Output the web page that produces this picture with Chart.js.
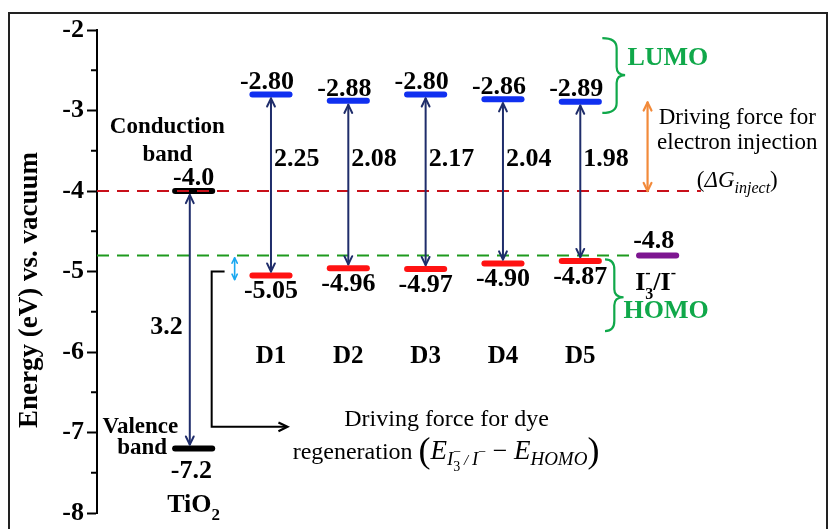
<!DOCTYPE html>
<html>
<head>
<meta charset="utf-8">
<script src="https://cdn.jsdelivr.net/npm/chart.js@4"></script>
<style>
  html, body { margin: 0; padding: 0; background: #fff; overflow: hidden; }
  #frame { position: absolute; left: 8px; top: 12px; width: 816px; height: 600px; border: 2px solid #222; }
  #wrap { position: absolute; left: 0; top: 0; width: 830px; height: 529px; }
</style>
</head>
<body>
<div id="frame"></div>
<div id="wrap"><canvas id="chart"></canvas></div>
<script>
// energy levels (eV vs vacuum)
const dyes = ['D1', 'D2', 'D3', 'D4', 'D5'];
const lumo = [-2.80, -2.88, -2.80, -2.86, -2.89];
const homo = [-5.05, -4.96, -4.97, -4.90, -4.87];
const gaps = [2.25, 2.08, 2.17, 2.04, 1.98];
const tio2CB = -4.0;
const tio2VB = -7.2;
const tio2Gap = 3.2;
const redox = -4.8;
const yTicks = [-2, -3, -4, -5, -6, -7, -8];

// x slots: TiO2 = 0, dyes = 1..5, redox couple = 6
const HALF = 0.24;
const SERIF = "'Liberation Serif', 'Times New Roman', serif";
const BLUE = '#1030f0', RED = '#ff1212', PURPLE = '#7d1690';
const NAVY = '#1f2d6b', GREEN = '#10a84a', ORANGE = '#f28a3a', CYAN = '#1aa8f0';

function seg(x, y, color) {
    return {
        data: [{ x: x - HALF, y }, { x: x + HALF, y }],
        borderColor: color, borderWidth: 6, borderCapStyle: 'round',
        pointRadius: 0, order: 2
    };
}

const datasets = [];
dyes.forEach((d, i) => {
    datasets.push(seg(i + 1, lumo[i], BLUE));
    datasets.push(seg(i + 1, homo[i], RED));
});
datasets.push(seg(0, tio2CB, '#000'));
datasets.push(seg(0, tio2VB, '#000'));
datasets.push(seg(6, redox, PURPLE));
datasets.push({
    data: [{ x: -1.25, y: tio2CB }, { x: 6.56, y: tio2CB }],
    borderColor: '#c8101a', borderWidth: 2, borderDash: [12, 8], pointRadius: 0, order: 0
});
datasets.push({
    data: [{ x: -1.25, y: redox }, { x: 5.7, y: redox }],
    borderColor: '#1e9a1e', borderWidth: 2, borderDash: [12, 8], pointRadius: 0, order: 0
});

function font(size, weight = 'bold', style = 'normal') {
    return `${style} ${weight} ${size}px ${SERIF}`;
}

function arrowHead(ctx, x, y, ang, len) {
    ctx.beginPath();
    ctx.moveTo(x - len * Math.cos(ang - 0.45), y - len * Math.sin(ang - 0.45));
    ctx.lineTo(x, y);
    ctx.lineTo(x - len * Math.cos(ang + 0.45), y - len * Math.sin(ang + 0.45));
    ctx.stroke();
}

function arrow(ctx, x1, y1, x2, y2, color, width, len, both) {
    ctx.save();
    ctx.strokeStyle = color; ctx.lineWidth = width;
    ctx.lineCap = 'round'; ctx.lineJoin = 'round';
    ctx.beginPath(); ctx.moveTo(x1, y1); ctx.lineTo(x2, y2); ctx.stroke();
    const ang = Math.atan2(y2 - y1, x2 - x1);
    arrowHead(ctx, x2, y2, ang, len);
    if (both) arrowHead(ctx, x1, y1, ang + Math.PI, len);
    ctx.restore();
}

function brace(ctx, x0, xm, xt, yTop, yMid, yBot) {
    ctx.save();
    ctx.strokeStyle = GREEN; ctx.lineWidth = 2.2;
    ctx.beginPath();
    ctx.moveTo(x0, yTop);
    ctx.quadraticCurveTo(xm, yTop, xm, yTop + 10);
    ctx.lineTo(xm, yMid - 8);
    ctx.quadraticCurveTo(xm, yMid, xt, yMid);
    ctx.quadraticCurveTo(xm, yMid, xm, yMid + 8);
    ctx.lineTo(xm, yBot - 10);
    ctx.quadraticCurveTo(xm, yBot, x0, yBot);
    ctx.stroke();
    ctx.restore();
}

// draw a run of [text, font, dy, noAdvance] pieces starting at x
function run(ctx, x, y, pieces, color = '#000') {
    ctx.save();
    ctx.fillStyle = color; ctx.textAlign = 'left'; ctx.textBaseline = 'alphabetic';
    for (const p of pieces) {
        ctx.font = p[1];
        ctx.fillText(p[0], x, y + (p[2] || 0));
        if (!p[3]) x += ctx.measureText(p[0]).width;
    }
    ctx.restore();
    return x;
}

function runWidth(ctx, pieces) {
    let w = 0;
    for (const p of pieces) { ctx.font = p[1]; if (!p[3]) w += ctx.measureText(p[0]).width; }
    return w;
}

const annotations = {
    id: 'annotations',
    afterDatasetsDraw(chart) {
        const ctx = chart.ctx;
        const xs = chart.scales.x, ys = chart.scales.y;
        const px = u => xs.getPixelForValue(u);
        const py = v => ys.getPixelForValue(v);

        // minor ticks
        ctx.save();
        ctx.strokeStyle = '#000'; ctx.lineWidth = 2;
        for (let v = -2.5; v > -8; v -= 1) {
            ctx.beginPath(); ctx.moveTo(xs.left - 6, py(v)); ctx.lineTo(xs.left, py(v)); ctx.stroke();
        }
        ctx.restore();

        // axis title
        ctx.save();
        ctx.translate(30, 290);
        ctx.rotate(-Math.PI / 2);
        ctx.font = font(27); ctx.fillStyle = '#000';
        ctx.textAlign = 'center'; ctx.textBaseline = 'middle';
        ctx.fillText('Energy (eV) vs. vacuum', 0, 0);
        ctx.restore();

        const text = (s, u, v, f, align = 'center', base = 'middle', color = '#000') => {
            ctx.save();
            ctx.font = f; ctx.fillStyle = color; ctx.textAlign = align; ctx.textBaseline = base;
            ctx.fillText(s, typeof u === 'number' ? px(u) : u.px, typeof v === 'number' ? py(v) : v.px);
            ctx.restore();
        };

        // dye levels, arrows, values
        dyes.forEach((d, i) => {
            const x = px(i + 1);
            arrow(ctx, x, py(lumo[i]) + 4, x, py(homo[i]) - 4, NAVY, 2, 9, true);
            text(lumo[i].toFixed(2), { px: x - 4 }, { px: py(lumo[i]) - 12 }, font(26));
            text(homo[i].toFixed(2), { px: x }, { px: py(homo[i]) + 16 }, font(26));
            text(gaps[i].toFixed(2), { px: x + 3 }, -3.61, font(26), 'left');
            text(d, i + 1, -6.06, font(25));
        });

        // TiO2
        const xt = px(-0.05);
        arrow(ctx, xt, py(tio2CB) + 4, xt, py(tio2VB) - 4, NAVY, 2, 9, true);
        text('Conduction', -0.34, -3.21, font(23));
        text('band', -0.34, -3.55, font(23));
        text(tio2CB.toFixed(1), { px: px(0) }, { px: py(tio2CB) - 13 }, font(26));
        text(tio2Gap.toFixed(1), -0.35, -5.69, font(26));
        text('Valence', -0.69, -6.93, font(23));
        text('band', { px: px(-HALF) - 8 }, { px: py(tio2VB) - 1 }, font(23), 'right');
        text(tio2VB.toFixed(1), { px: px(-0.03) }, { px: py(tio2VB) + 23 }, font(26));
        const tiPieces = [['TiO', font(26), 0], ['2', font(17), 8]];
        run(ctx, px(0) - runWidth(ctx, tiPieces) / 2, py(-7.88) + 9, tiPieces);

        // redox couple
        text(redox.toFixed(1), { px: px(5.95) }, { px: py(redox) - 14 }, font(26));
        const iPieces = [['I', font(26), 0], ['-', font(16), -12, true], ['3', font(16), 9], ['/I', font(26), 0], ['-', font(16), -12]];
        run(ctx, px(6) - runWidth(ctx, iPieces) / 2 - 2, py(-5.12) + 9, iPieces);

        // braces + LUMO / HOMO labels
        brace(ctx, px(5.285), px(5.47), px(5.58), py(-2.1), py(-2.56), py(-3.03));
        brace(ctx, px(5.32), px(5.44), px(5.56), py(-4.85), py(-5.32), py(-5.74));
        text('LUMO', 5.61, -2.35, font(26), 'left', 'middle', GREEN);
        text('HOMO', 5.56, -5.49, font(26), 'left', 'middle', GREEN);

        // electron injection driving force
        arrow(ctx, px(5.87), py(-2.9), px(5.87), py(tio2CB), ORANGE, 2.2, 9, true);
        text('Driving force for', 7.03, -3.09, font(23, 'normal'));
        text('electron injection', 7.03, -3.40, font(23, 'normal'));
        const gPieces = [['(', font(23, 'normal'), 0], ['\u0394G', font(23, 'normal', 'italic'), 0],
                         ['inject', font(16, 'normal', 'italic'), 6], [')', font(23, 'normal'), 0]];
        run(ctx, px(7.03) - runWidth(ctx, gPieces) / 2, py(-3.85) + 8, gPieces);

        // dye regeneration driving force
        arrow(ctx, px(0.53), py(-4.83), px(0.53), py(-5.1), CYAN, 1.6, 6, true);
        ctx.save();
        ctx.strokeStyle = '#000'; ctx.lineWidth = 2;
        const bx = px(0.233), by0 = py(-5.0), by1 = py(-6.93), bx1 = px(1.2);
        ctx.beginPath();
        ctx.moveTo(px(0.4), by0); ctx.lineTo(bx, by0); ctx.lineTo(bx, by1); ctx.lineTo(bx1, by1);
        ctx.stroke();
        ctx.lineWidth = 2.2;
        arrowHead(ctx, bx1 + 1, by1, 0, 10);
        ctx.restore();
        text('Driving force for dye', 3.27, -6.84, font(24, 'normal'));
        const eI = font(19, 'normal', 'italic'), sm = font(14, 'normal');
        const rPieces = [
            ['regeneration ', font(24, 'normal'), 0],
            ['(', font(36, 'normal'), 3],
            ['E', font(27, 'normal', 'italic'), 0],
            ['I', eI, 6], ['\u2212', sm, -3, true], ['3', sm, 12], [' / ', font(15, 'normal', 'italic'), 6], ['I', eI, 6], ['\u2212', sm, -3],
            [' \u2212 ', font(26, 'normal'), 0],
            ['E', font(27, 'normal', 'italic'), 0],
            ['HOMO', eI, 6],
            [')', font(36, 'normal'), 3]
        ];
        run(ctx, px(1.28), py(-7.23) + 8, rPieces);
    }
};

new Chart(document.getElementById('chart'), {
    type: 'line',
    data: { datasets },
    options: {
        responsive: true,
        maintainAspectRatio: false,
        animation: false,
        layout: { padding: { left: 0, right: 10, top: 30, bottom: 14 } },
        plugins: { legend: { display: false }, tooltip: { enabled: false } },
        scales: {
            x: { type: 'linear', min: -1.25, max: 8.1, display: false },
            y: {
                type: 'linear', min: -8, max: -2,
                afterFit: s => { s.width = 97; },
                afterBuildTicks: s => { s.ticks = yTicks.map(v => ({ value: v })); },
                ticks: {
                    color: '#000', padding: 3, autoSkip: false,
                    font: { family: SERIF, size: 26, weight: 'bold', lineHeight: 1 }
                },
                grid: { drawOnChartArea: false, tickLength: 10, tickWidth: 2, tickColor: '#000' },
                border: { color: '#000', width: 2 }
            }
        }
    },
    plugins: [annotations]
});
</script>
</body>
</html>
